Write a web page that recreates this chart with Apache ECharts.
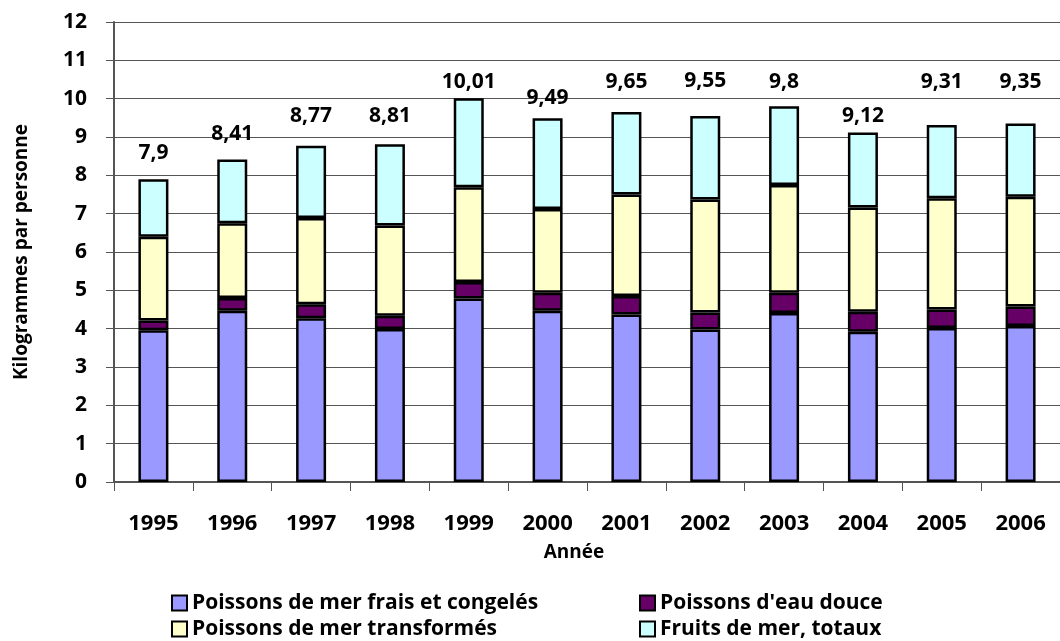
<!DOCTYPE html>
<html>
<head>
<meta charset="utf-8">
<script src="https://cdn.jsdelivr.net/npm/echarts@6/dist/echarts.min.js"></script>
<style>
  html, body { margin: 0; padding: 0; background: #fff; }
  #chart { width: 1060px; height: 641px; }
</style>
</head>
<body>
<div id="chart"></div>
<script>
// ---- data ----
const years = ['1995', '1996', '1997', '1998', '1999', '2000', '2001', '2002', '2003', '2004', '2005', '2006'];
const merFraisCongeles = [3.96, 4.47, 4.27, 3.99, 4.79, 4.47, 4.37, 3.98, 4.41, 3.92, 4.02, 4.07];
const eauDouce        = [0.25, 0.33, 0.37, 0.35, 0.43, 0.47, 0.48, 0.44, 0.53, 0.52, 0.48, 0.51];
const merTransformes  = [2.19, 1.95, 2.25, 2.35, 2.47, 2.18, 2.65, 2.95, 2.81, 2.72, 2.90, 2.86];
const fruitsDeMer     = [1.50, 1.66, 1.88, 2.12, 2.32, 2.37, 2.15, 2.18, 2.05, 1.96, 1.91, 1.91];
const totals          = [7.9, 8.41, 8.77, 8.81, 10.01, 9.49, 9.65, 9.55, 9.8, 9.12, 9.31, 9.35];
const yTicks = [0, 1, 2, 3, 4, 5, 6, 7, 8, 9, 10, 11, 12];
const seriesNames = ['Poissons de mer frais et congelés', "Poissons d'eau douce", 'Poissons de mer transformés', 'Fruits de mer, totaux'];

// ---- layout / style ----
const totalLabelGap = [16, 15, 19, 18, 6, 10, 20, 24, 14, 6, 33, 31];
const FONT = '"Open Sans", "Noto Sans", "DejaVu Sans", sans-serif';
const colors = ['#9999FF', '#660066', '#FFFFCC', '#CCFFFF'];
const fmt = v => String(v).replace('.', ',');

const seriesValues = [merFraisCongeles, eauDouce, merTransformes, fruitsDeMer];

const series = seriesValues.map((vals, i) => {
  const s = {
    name: seriesNames[i],
    type: 'bar',
    stack: 'total',
    barWidth: 30,
    itemStyle: { color: colors[i], borderColor: '#000', borderWidth: 2.5 },
    emphasis: { disabled: true },
    data: vals.slice()
  };
  if (i === 3) {
    s.data = vals.map((v, k) => ({
      value: v,
      label: {
        show: true,
        position: 'top',
        distance: totalLabelGap[k],
        formatter: () => fmt(totals[k]),
        fontFamily: FONT, fontWeight: 'bold', fontSize: 21, color: '#000'
      }
    }));
  }
  return s;
});

const legendCommon = {
  orient: 'vertical',
  top: 592,
  height: 120,
  padding: 0,
  itemWidth: 15,
  itemHeight: 15,
  itemGap: 4,
  icon: 'rect',
  itemStyle: { borderColor: '#000', borderWidth: 2 },
  textStyle: { fontFamily: FONT, fontWeight: 'bold', fontSize: 21, color: '#000', lineHeight: 22 },
  selectedMode: false
};

const chart = echarts.init(document.getElementById('chart'), null, { renderer: 'canvas' });
chart.setOption({
  animation: false,
  backgroundColor: '#fff',
  grid: { left: 114, right: -10, top: 22, bottom: 159, containLabel: false },
  xAxis: {
    type: 'category',
    data: years,
    name: 'Année',
    nameLocation: 'middle',
    nameGap: 61,
    nameTextStyle: { fontFamily: FONT, fontWeight: 'bold', fontSize: 19, color: '#000', padding: [0, 26, 0, 0] },
    axisLine: { lineStyle: { color: '#555', width: 2 } },
    axisTick: { show: true, length: 9, lineStyle: { color: '#555', width: 1 } },
    axisLabel: { fontFamily: FONT, fontWeight: 'bold', fontSize: 22, color: '#000', margin: 31 },
    splitLine: { show: false }
  },
  yAxis: {
    type: 'value',
    min: yTicks[0],
    max: yTicks[yTicks.length - 1],
    interval: 1,
    name: 'Kilogrammes par personne',
    nameLocation: 'middle',
    nameGap: 83,
    nameTextStyle: { fontFamily: FONT, fontWeight: 'bold', fontSize: 19, color: '#000' },
    axisLine: { show: true, lineStyle: { color: '#555', width: 2 } },
    axisTick: { show: true, length: 8, lineStyle: { color: '#555', width: 1 } },
    axisLabel: { fontFamily: FONT, fontWeight: 'bold', fontSize: 21, color: '#000', margin: 27 },
    splitLine: { show: true, lineStyle: { color: '#555', width: 1 } }
  },
  legend: [
    Object.assign({}, legendCommon, { left: 171, data: [seriesNames[0], seriesNames[2]] }),
    Object.assign({}, legendCommon, { left: 639, data: [seriesNames[1], seriesNames[3]] })
  ],
  series: series
});
</script>
</body>
</html>
